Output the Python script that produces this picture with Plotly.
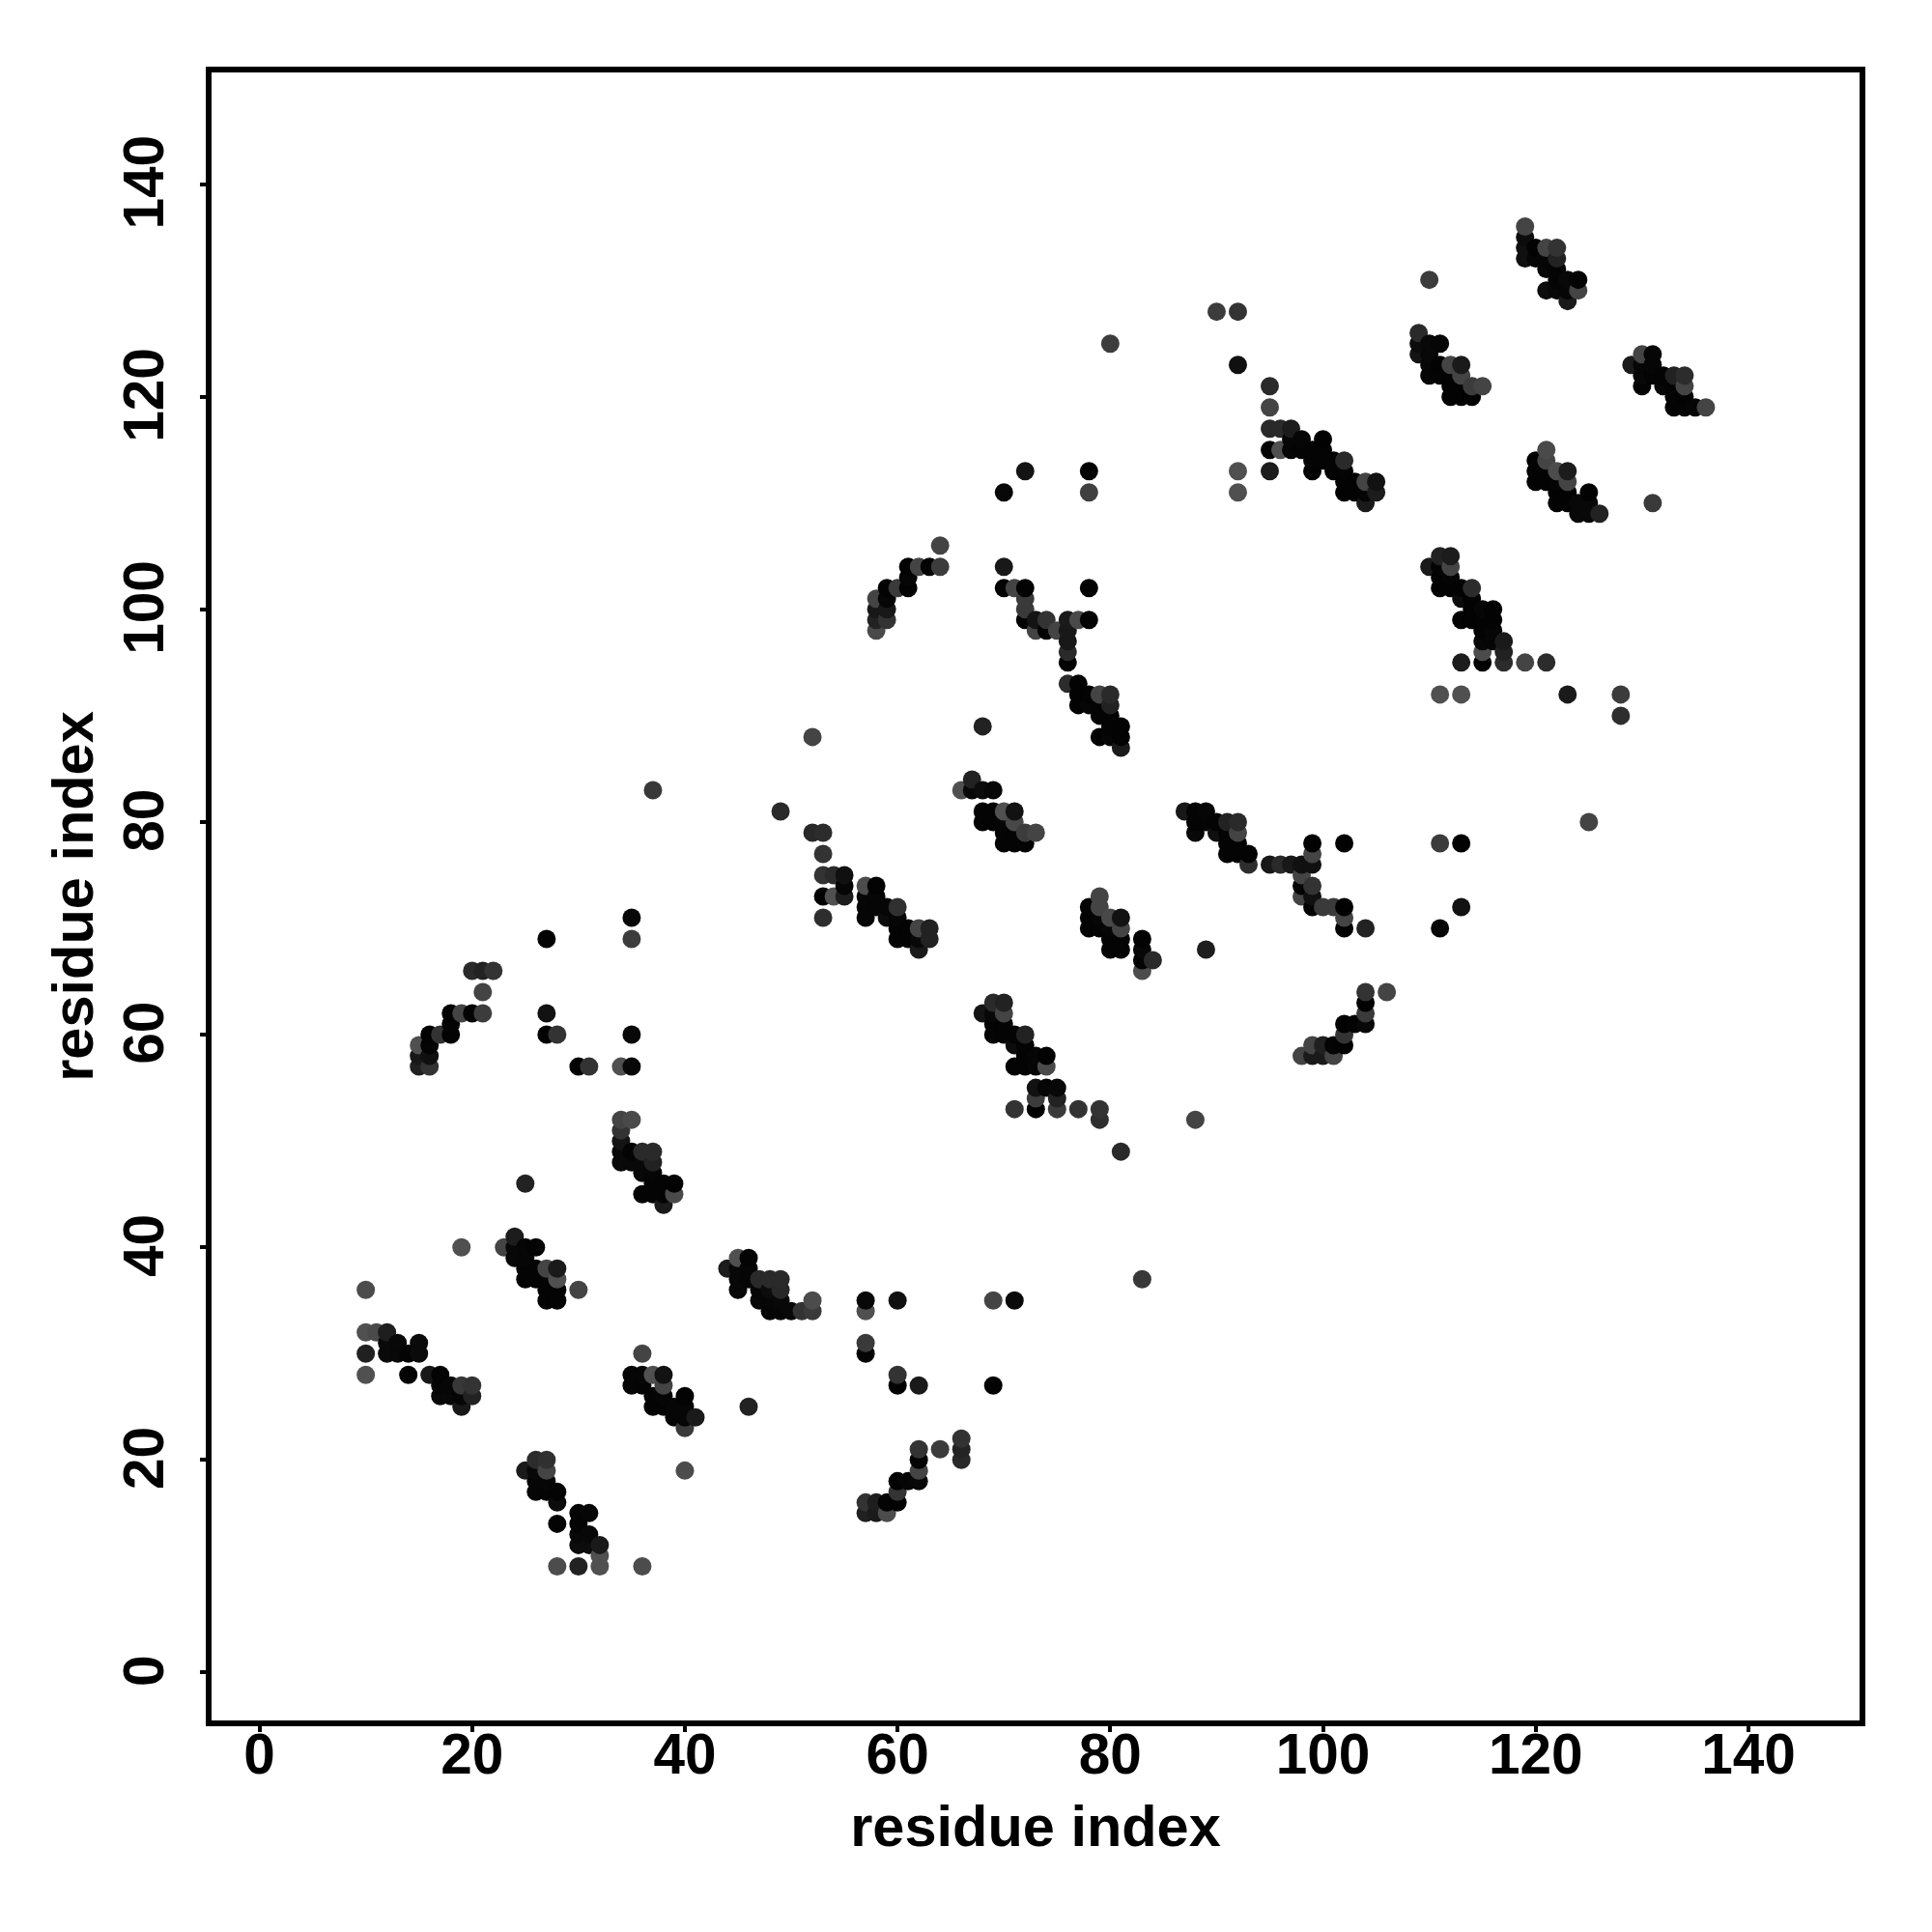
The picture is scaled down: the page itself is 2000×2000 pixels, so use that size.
import plotly.graph_objects as go

# Each contact: (residue i, residue j, grey level 0-255)
strand_a = [(10,36,0x4c),(10,32,0x50),(11,32,0x4a),(12,32,0x1e),(12,31,10),(13,31,8),(15,31,10),
            (10,30,0x20),(12,30,10),(13,30,8),(14,30,4),(15,30,10),(10,28,0x50),(14,28,4),(16,28,0x18),(17,28,4),
            (17,27,6),(18,27,6),(19,27,0x38),(20,27,0x33),(17,26,8),(18,26,8),(19,26,6),(20,26,0x22),(19,25,0x18)]
strand_b = [(25,46,0x22),(19,40,0x50),(23,40,0x44),(24,41,0x1c),(24,40,8),(25,40,6),(26,40,4),(24,39,8),(25,39,6),
            (25,38,4),(26,38,4),(27,38,0x44),(28,38,0x1a),(25,37,4),(26,37,4),(27,37,4),(28,37,0x50),
            (27,36,4),(28,36,4),(30,36,0x44),(27,35,4),(28,35,4)]
strand_c = [(34,52,0x44),(35,52,0x4a),(34,51,0x33),(34,50,0x14),(34,49,10),(35,49,4),(36,49,0x2a),(37,49,0x2a),
            (34,48,10),(35,48,8),(36,48,8),(37,48,0x22),(36,47,8),(37,47,6),(37,46,4),(38,46,4),(39,46,3),
            (36,45,4),(37,45,4),(38,45,4),(39,45,0x4a),(38,44,0x1a),(37,83,0x38)]
strand_d = [(26,20,0x2c),(27,20,0x30),(25,19,0x1a),(26,19,8),(27,19,0x44),(26,18,6),(27,18,6),(26,17,6),(27,17,4),
            (28,17,4),(28,16,0x0c),(30,15,4),(31,15,6),(28,14,4),(30,14,4),(30,13,8),(31,13,8),(30,12,0x0c),
            (31,12,0x0c),(32,12,0x1a),(32,11,0x50),(28,10,0x4c),(30,10,0x22),(32,10,0x50),(36,10,0x4c)]
strand_e = [(36,30,0x44),(35,28,6),(36,28,6),(37,28,0x50),(38,28,0x12),(35,27,6),(36,27,4),(38,27,0x44),(37,26,4),
            (38,26,6),(40,26,3),(37,25,4),(38,25,4),(39,25,6),(40,25,6),(39,24,6),(40,24,6),(41,24,0x1a),
            (40,23,0x3a),(46,25,0x22),(40,19,0x4c)]
strand_f = [(44,38,0x1c),(45,39,0x50),(46,39,4),(45,38,8),(46,38,6),(45,37,8),(46,37,6),(47,37,0x2a),(48,37,0x2a),(49,37,0x2a),
            (45,36,8),(47,36,6),(48,36,0x0c),(49,36,0x28),(47,35,8),(48,35,6),(49,35,8),(48,34,6),(49,34,6),
            (50,34,8),(51,34,0x33),(52,34,0x3a),(52,35,0x4c)]
sparse_g = [(57,35,8),(60,35,0x10),(69,35,0x44),(71,35,0x0a),(57,34,0x50),(57,31,0x3a),(57,30,4),(60,28,0x33),
            (60,27,3),(62,27,0x1a),(69,27,3),(83,37,0x38)]
strand_h = [(66,22,0x33),(62,21,0x33),(64,21,0x3c),(66,21,0x24),(62,20,4),(66,20,0x28),(62,19,0x44),(60,18,3),(61,18,6),
            (62,18,8),(60,17,0x33),(57,16,0x33),(58,16,0x1e),(59,16,4),(60,16,3),(57,15,0x20),(58,15,0x1a),(59,15,0x4c)]
strand_i = [(52,88,0x44),(49,81,0x2a),(52,79,0x28),(53,79,0x2c),(53,77,0x33),(53,75,0x33),(54,75,0x2a),(55,75,0x10),
            (55,74,6),(53,73,3),(54,73,0x50),(55,73,0x1c),(53,71,0x2e),(57,74,0x4c),(58,74,3),(57,73,6),(58,73,6),
            (57,72,6),(58,72,6),(59,72,6),(60,72,0x30),(57,71,6),(59,71,0x0c),(60,71,6),(60,70,4),(61,70,4),(62,70,0x44),
            (63,70,0x22),(60,69,4),(61,69,4),(62,69,8),(63,69,0x22),(62,68,0x1a)]
strand_j = [(66,83,0x50),(67,84,0x22),(67,83,8),(68,83,0x0c),(69,83,8),(68,81,4),(69,81,4),(70,81,0x50),(71,81,0x12),
            (68,80,4),(69,80,4),(70,80,6),(71,80,0x48),(70,79,4),(71,79,4),(72,79,0x3c),(73,79,0x44),(70,78,4),(71,78,4),(72,78,4),(89,68,0x1e),(68,89,0x22)]
strand_k = [(68,62,0x14),(69,63,0x2a),(70,63,0x22),(69,62,8),(70,62,0x44),(69,61,4),(70,61,4),(69,60,6),(70,60,4),
            (71,60,4),(72,60,0x22),(71,59,0x0c),(72,59,4),(72,58,4),(73,58,6),(74,58,3),(71,57,4),(72,57,4),(73,57,6),
            (74,57,0x4a),(73,55,0x12),(74,55,6),(75,55,8),(73,54,0x3c),(75,54,0x22),(71,53,0x33),(73,53,2),(75,53,0x3a),
            (77,53,0x33),(79,53,0x33),(79,52,0x2e),(88,52,0x44),(81,49,0x2a)]
strand_l = [(79,73,0x44),(78,72,4),(79,72,0x44),(78,71,4),(79,71,6),(80,71,0x48),(81,71,0x12),(78,70,4),(79,70,4),
            (80,70,6),(81,70,0x44),(80,69,4),(81,69,4),(83,69,3),(80,68,4),(81,68,4),(83,68,8),(83,67,4),(84,67,0x2a),(83,66,0x4c)]
strand_m = [(87,81,0x18),(88,81,4),(89,81,6),(88,80,4),(89,80,4),(90,80,4),(91,80,0x22),(92,80,0x2a),(88,79,8),(90,79,0x10),(91,79,4),
            (92,79,0x44),(91,78,4),(92,78,4),(91,77,4),(92,77,4),(93,77,4),(93,76,0x2e),(95,76,0x18),(96,76,0x2a),(97,76,0x18),
            (98,76,0x10),(99,76,0x10),(99,77,0x44),(99,78,3),(98,75,0x44),(98,74,3),(99,74,0x33),(98,73,0x44),(99,73,0x10),
            (99,72,3),(100,72,0x3a),(101,72,0x3a),(102,72,2),(102,71,0x44),(102,70,2),(104,70,0x22),(111,70,6),
            (113,72,0x12),(111,78,0x3c),(113,78,2),(102,78,3),(125,80,0x44)]
strand_n = [(104,64,0x33),(106,64,0x44),(104,63,2),(104,62,0x3a),(102,61,2),(103,61,4),(104,61,8),(102,60,0x33),(99,59,0x44),
            (100,59,0x20),(101,59,4),(102,59,2),(98,58,0x44),(99,58,0x1a),(100,58,0x1a),(101,58,0x44)]
strand_o = [(64,106,0x44),(61,104,3),(62,104,0x44),(63,104,3),(64,104,0x3c),(61,103,6),(59,102,3),(60,102,0x3a),(61,102,3),
            (58,101,0x44),(59,101,6),(58,100,0x18),(59,100,0x18),(58,99,0x22),(59,99,0x33),(58,98,0x4a),
            (70,111,8),(72,113,0x14),(78,113,3),(78,111,0x40),(92,113,0x50),(92,111,0x50),(80,125,0x3c),(90,128,0x3c),(92,128,0x33),(92,123,0x10),
            (70,104,0x18),(70,102,3),(71,102,0x44),(72,102,3),(78,102,3),(72,101,0x3a),(72,100,0x3a),(72,99,3),(73,99,0x14),
            (74,99,0x33),(76,99,0x1a),(77,99,0x4a),(78,99,3),(73,98,0x44),(74,98,3),(75,98,0x44),(76,98,0x18),(76,97,0x18),
            (76,96,0x2a),(76,95,3)]
strand_p = [(76,93,0x2c),(77,93,3),(77,92,3),(78,92,3),(79,92,0x44),(80,92,0x2a),(77,91,3),(78,91,6),(79,91,4),(80,91,0x22),
            (79,90,4),(80,90,4),(80,89,4),(81,89,3),(79,88,2),(80,88,6),(81,88,3),(81,87,0x1a),(68,89,0x22)]
strand_q = [(95,121,0x2a),(95,119,0x44),(95,117,0x2a),(96,117,0x2a),(97,117,0x1c),(97,116,6),(98,116,6),(100,116,2),(95,115,3),
            (96,115,0x50),(97,115,6),(98,115,4),(99,115,4),(100,115,4),(99,114,4),(100,114,4),(101,114,4),(102,114,0x2a),
            (95,113,0x1c),(99,113,3),(101,113,4),(102,113,4),(102,112,3),(103,112,3),(104,112,0x44),(105,112,0x12),
            (102,111,3),(103,111,3),(104,111,4),(105,111,0x1c),(104,110,0x1a)]
strand_r = [(111,105,0x22),(112,105,0x1c),(110,104,0x1a),(111,104,4),(112,104,0x44),(111,103,3),(112,103,4),(111,102,3),(112,102,3),
            (113,102,3),(114,102,0x2c),(113,101,0x0c),(114,101,3),(114,100,3),(115,100,6),(116,100,3),(113,99,3),(114,99,3),
            (115,99,3),(116,99,3),(115,98,3),(116,98,6),(115,97,8),(116,97,6),(117,97,0x1a),(115,96,0x4c),(117,96,0x22),
            (113,95,0x1c),(115,95,2),(117,95,0x2c),(119,95,0x44),(121,95,0x2c),(111,92,0x50),(113,92,0x50),(123,92,0x1a),
            (128,92,0x3c),(128,90,0x2e),(131,110,0x3a)]
strand_s = [(121,115,0x4a),(120,114,3),(121,114,0x44),(120,113,3),(121,113,3),(122,113,0x4c),(123,113,0x1c),(120,112,3),(121,112,3),
            (122,112,4),(123,112,0x44),(122,111,3),(123,111,3),(125,111,3),(122,110,3),(123,110,3),(124,110,8),(125,110,8),
            (124,109,8),(125,109,8),(126,109,0x22)]
strand_t = [(110,131,0x3c),(109,126,0x2a),(109,125,0x0c),(110,125,8),(111,125,6),(109,124,0x14),(110,124,8),(110,123,6),(111,123,3),(112,123,0x44),
            (113,123,0x1a),(110,122,6),(111,122,4),(112,122,3),(113,122,0x44),(112,121,3),(113,121,3),(114,121,0x3c),(115,121,0x44),
            (112,120,3),(113,120,3),(114,120,3)]
strand_u = [(119,136,0x44),(119,135,0x0c),(119,134,0x10),(120,134,3),(121,134,0x44),(122,134,0x33),(119,133,0x10),(120,133,6),(121,133,6),
            (122,133,0x22),(121,132,8),(122,132,4),(122,131,4),(123,131,8),(124,131,3),(121,130,0x0c),(122,130,8),(123,130,6),(124,130,0x44),(123,129,0x1a)]
strand_v = [(129,123,0x1a),(130,124,0x44),(131,124,6),(130,123,6),(131,123,6),(130,122,8),(131,122,4),(132,122,4),(133,122,0x22),(134,122,0x2c),
            (130,121,4),(132,121,6),(133,121,4),(134,121,0x44),(133,120,4),(134,120,3),(133,119,4),(134,119,4),(135,119,6),(136,119,0x44)]
sparse_w = [(21,66,0x22),(20,66,0x2a),(22,66,0x33),(21,64,0x44),(18,62,3),(19,62,0x44),(20,62,3),(21,62,0x3c),(18,61,4),(16,60,3),(17,60,0x33),
            (18,60,3),(15,59,0x50),(16,59,4),(15,58,0x18),(16,58,0x10),(15,57,0x20),(16,57,0x33),(27,69,3),(27,62,0x12),(27,60,3),(28,60,0x33),
            (30,57,3),(31,57,0x33),(34,57,0x50),(35,57,8),(35,60,8),(35,71,8),(35,69,0x3c)]

all_strands = [strand_a, strand_b, strand_c, strand_d, strand_e, strand_f, sparse_g, strand_h, strand_i, strand_j, strand_k,
               strand_l, strand_m, strand_n, strand_o, strand_p, strand_q, strand_r, strand_s, strand_t, strand_u, strand_v, sparse_w]
tick_values = [0, 20, 40, 60, 80, 100, 120, 140]

contacts = sorted({(c[0], c[1]): c for s in all_strands for c in s}.values())
contact_x = [c[0] for c in contacts]
contact_y = [c[1] for c in contacts]
contact_color = [f"rgb({c[2]},{c[2]},{c[2]})" for c in contacts]

FONT = "Liberation Sans, Arial, sans-serif"

fig = go.Figure(go.Scatter(
    x=contact_x, y=contact_y, mode="markers",
    marker=dict(size=19, color=contact_color, line=dict(width=0), opacity=1),
    showlegend=False, hoverinfo="x+y",
))

def axis(title, standoff, label_standoff, label_shift=0, angle=0):
    return dict(
        title=dict(text=f"<b>{title}</b>", font=dict(family=FONT, size=59.5, color="black"), standoff=standoff),
        tickmode="array", tickvals=tick_values, ticktext=[f"<b>{v}</b>" for v in tick_values],
        tickfont=dict(family=FONT, size=58.5, color="black"), tickangle=angle,
        ticklabelstandoff=label_standoff, ticklabelshift=label_shift,
        ticks="outside", ticklen=6, tickwidth=3.5, tickcolor="black",
        showline=True, linewidth=6, linecolor="black", mirror=True,
        showgrid=False, zeroline=False,
    )

xa = axis("residue index", 24, -27)
xa["range"] = [-4.5, 150.45]
ya = axis("residue index", 2, 15, 7, -90)
ya["range"] = [-4.5, 150.5]

fig.update_layout(
    width=2000, height=2000, autosize=False,
    margin=dict(l=219, r=75, t=75, b=219, pad=0),
    paper_bgcolor="white", plot_bgcolor="white",
    xaxis=xa, yaxis=ya,
)

fig.write_html("out.html", post_script="document.body.style.margin='0';",
               config={"displayModeBar": False})
